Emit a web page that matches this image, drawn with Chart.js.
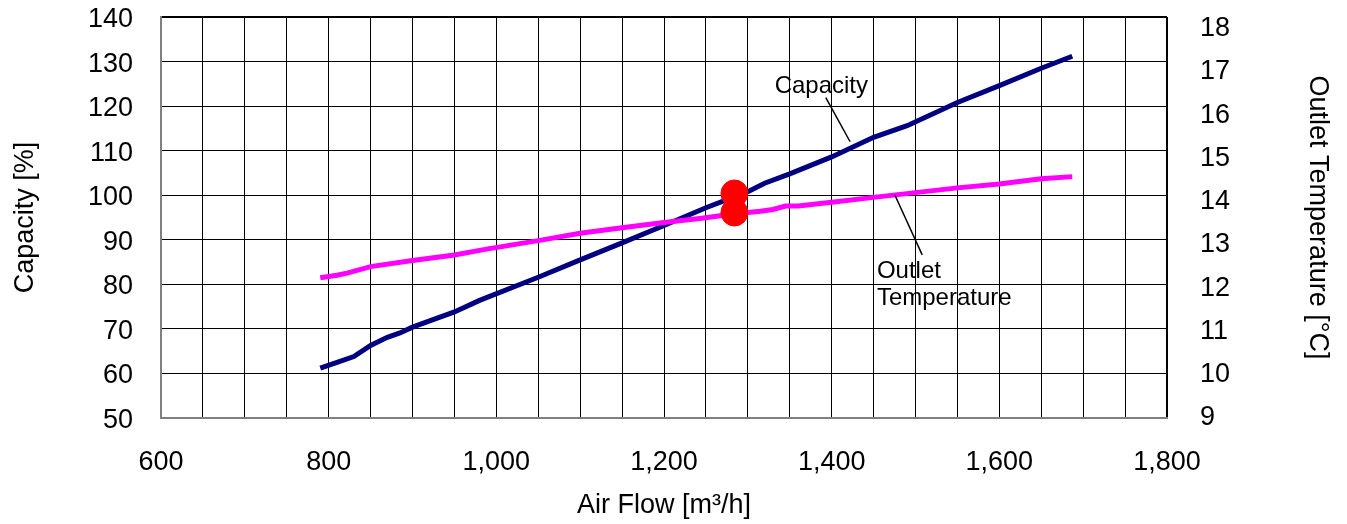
<!DOCTYPE html>
<html>
<head>
<meta charset="utf-8">
<script src="https://cdn.jsdelivr.net/npm/chart.js@4/dist/chart.umd.min.js"></script>
<style>
html,body{margin:0;padding:0;background:#fff;}
canvas{display:block;}
</style>
</head>
<body>
<canvas id="c" width="1347" height="524"></canvas>
<script>
// ---- Data ----
const capacityFlow = [790, 810, 830, 850, 870, 885, 900, 950, 980, 1050, 1100, 1150, 1200, 1250, 1300, 1320, 1350, 1400, 1450, 1490, 1550, 1600, 1650, 1687];
const capacityValues = [61.2, 62.5, 63.8, 66.3, 68.1, 69.1, 70.4, 73.8, 76.4, 81.6, 85.5, 89.3, 93.2, 97.2, 100.8, 102.7, 104.8, 108.6, 113.0, 115.6, 120.8, 124.6, 128.5, 131.2];

const tempFlow = [790, 810, 822, 850, 900, 950, 990, 1050, 1100, 1150, 1200, 1245, 1285, 1315, 1330, 1345, 1360, 1400, 1450, 1500, 1550, 1600, 1650, 1687];
const tempValues = [12.24, 12.30, 12.35, 12.50, 12.64, 12.77, 12.91, 13.10, 13.27, 13.40, 13.52, 13.62, 13.72, 13.78, 13.82, 13.90, 13.90, 13.99, 14.10, 14.21, 14.32, 14.41, 14.53, 14.58];

const ratedFlow = [1284];
const ratedCapacity = [100.4];
const ratedTemp = [13.75];

const xTickLabels = [600, 800, 1000, 1200, 1400, 1600, 1800];
const leftTicks = [50, 60, 70, 80, 90, 100, 110, 120, 130, 140];
const rightTicks = [9, 10, 11, 12, 13, 14, 15, 16, 17, 18];

const labelNotes = [
  {text: 'Capacity', x: 1332, y: 122.9},
  {text: 'Outlet', x: 1454, y: 81.4},
  {text: 'Temperature', x: 1454, y: 75.4}
];
const leaderLines = [
  {x1: 1393, y1: 121.9, x2: 1422, y2: 112.0},
  {x1: 1475.5, y1: 100.0, x2: 1508, y2: 86.6}
];

const FONT = "'Liberation Sans', Arial, sans-serif";

const toPts = (xs, ys) => xs.map((x, i) => ({x: x, y: ys[i]}));

const annotate = {
  id: 'annotate',
  afterDatasetsDraw(chart) {
    const ctx = chart.ctx;
    const xs = chart.scales.x, ys = chart.scales.y;
    ctx.save();
    ctx.strokeStyle = '#000';
    ctx.lineWidth = 1.5;
    leaderLines.forEach(l => {
      ctx.beginPath();
      ctx.moveTo(xs.getPixelForValue(l.x1), ys.getPixelForValue(l.y1));
      ctx.lineTo(xs.getPixelForValue(l.x2), ys.getPixelForValue(l.y2));
      ctx.stroke();
    });
    ctx.fillStyle = '#000';
    ctx.font = '24px ' + FONT;
    ctx.textAlign = 'left';
    ctx.textBaseline = 'alphabetic';
    labelNotes.forEach(n => {
      ctx.fillText(n.text, xs.getPixelForValue(n.x), ys.getPixelForValue(n.y));
    });
    ctx.restore();
  }
};

function fixV(w) {
  return function (s) { s.width = w; s.paddingTop = 0; s.paddingBottom = 0; };
}

new Chart(document.getElementById('c'), {
  type: 'scatter',
  data: {
    datasets: [
      {
        label: 'Rated capacity',
        data: toPts(ratedFlow, ratedCapacity),
        yAxisID: 'y',
        pointRadius: 13.5,
        pointBackgroundColor: '#FF0000',
        pointBorderColor: '#FF0000',
        pointBorderWidth: 1,
        order: 0
      },
      {
        label: 'Rated temp',
        data: toPts(ratedFlow, ratedTemp),
        yAxisID: 'y1',
        pointRadius: 13.5,
        pointBackgroundColor: '#FF0000',
        pointBorderColor: '#FF0000',
        pointBorderWidth: 1,
        order: 0
      },
      {
        label: 'Outlet Temperature',
        data: toPts(tempFlow, tempValues),
        yAxisID: 'y1',
        showLine: true,
        borderColor: '#FF00FF',
        borderWidth: 5,
        pointRadius: 0,
        tension: 0,
        order: 1
      },
      {
        label: 'Capacity',
        data: toPts(capacityFlow, capacityValues),
        yAxisID: 'y',
        showLine: true,
        borderColor: '#000080',
        borderWidth: 5,
        pointRadius: 0,
        tension: 0,
        order: 2
      }
    ]
  },
  options: {
    responsive: false,
    devicePixelRatio: 1,
    animation: false,
    layout: {padding: {top: 17, left: 0, right: 0, bottom: 0}},
    plugins: {legend: {display: false}, tooltip: {enabled: false}},
    scales: {
      x: {
        type: 'linear',
        min: 600, max: 1800,
        afterFit(s) { s.height = 106; s.paddingLeft = 0; s.paddingRight = 0; },
        ticks: {
          stepSize: 50,
          autoSkip: false,
          maxRotation: 0,
          padding: 28,
          color: '#000',
          font: {family: FONT, size: 27},
          callback: (v) => xTickLabels.includes(v) ? v.toLocaleString('en-US') : ''
        },
        grid: {
          drawTicks: false,
          color: (c) => (c.tick && c.tick.value === 600) ? '#808080' : '#000',
          lineWidth: (c) => (c.tick && (c.tick.value === 1800 || c.tick.value === 600)) ? 2 : 1
        },
        border: {color: '#808080', width: 2},
        title: {
          display: true,
          text: 'Air Flow [m³/h]',
          color: '#000',
          font: {family: FONT, size: 27},
          padding: {top: 0, bottom: 2}
        }
      },
      y: {
        position: 'left',
        min: 50, max: 140,
        afterFit: fixV(161),
        afterBuildTicks(s) { s.ticks = leftTicks.map(v => ({value: v})); },
        ticks: {
          padding: 28,
          labelOffset: 2.5,
          color: '#000',
          font: {family: FONT, size: 27}
        },
        grid: {
          drawTicks: false,
          color: (c) => (c.tick && c.tick.value === 50) ? '#808080' : '#000',
          lineWidth: (c) => (c.tick && (c.tick.value === 140 || c.tick.value === 50)) ? 2 : 1
        },
        border: {color: '#808080', width: 2},
        title: {
          display: true,
          text: 'Capacity [%]',
          color: '#000',
          font: {family: FONT, size: 27},
          padding: {top: 9, bottom: 0}
        }
      },
      y1: {
        position: 'right',
        min: 9, max: 18.27,
        afterFit: fixV(180),
        afterBuildTicks(s) { s.ticks = rightTicks.map(v => ({value: v})); },
        ticks: {
          padding: 33,
          color: '#000',
          font: {family: FONT, size: 27}
        },
        grid: {display: false, drawTicks: false},
        border: {display: false},
        title: {
          display: true,
          text: 'Outlet Temperature [°C]',
          color: '#000',
          font: {family: FONT, size: 27},
          padding: {top: 13, bottom: 0}
        }
      }
    }
  },
  plugins: [annotate]
});
</script>
</body>
</html>
